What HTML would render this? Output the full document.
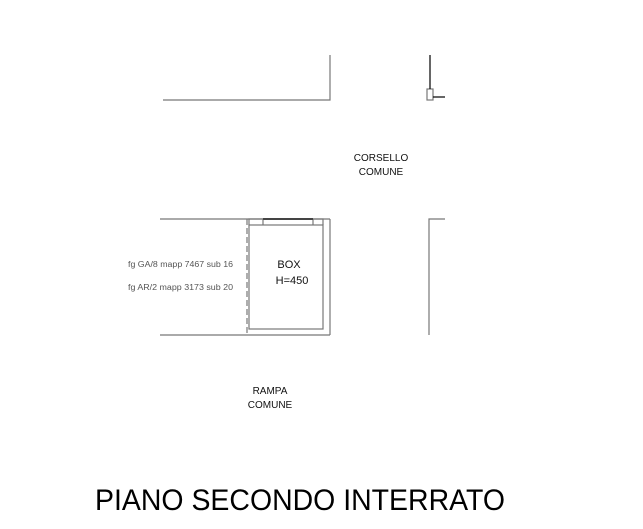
<!DOCTYPE html>
<html><head><meta charset="utf-8"><style>body{margin:0;background:#fff}</style></head>
<body>
<svg width="643" height="524" xmlns="http://www.w3.org/2000/svg" font-family="Liberation Sans, sans-serif">
<g stroke="#777" stroke-width="1.2" fill="none">
<polyline points="163,100 330,100 330,55"/>
<line x1="160" y1="219" x2="330" y2="219"/>
<line x1="160" y1="335" x2="330" y2="335"/>
<line x1="330" y1="219" x2="330" y2="335"/>
<line x1="247" y1="219" x2="247" y2="335" stroke-dasharray="6,3"/>
<rect x="249" y="225" width="74" height="104"/>
<polyline points="249,225 249,219 263,219 263,225"/>
<polyline points="313,225 313,219 323,219 323,225"/>
<polyline points="445,219 429,219 429,335"/>
<rect x="427" y="89" width="6" height="11"/>
</g>
<line x1="263" y1="219" x2="313" y2="219" stroke="#444" stroke-width="2"/>
<line x1="430" y1="55" x2="430" y2="89" stroke="#000" stroke-width="1.2"/>
<line x1="433" y1="97" x2="445" y2="97" stroke="#000" stroke-width="1.2"/>
<g fill="#111" font-size="10" text-anchor="middle">
<text x="381" y="161">CORSELLO</text>
<text x="381" y="175">COMUNE</text>
<text x="270" y="394">RAMPA</text>
<text x="270" y="408">COMUNE</text>
</g>
<g fill="#111" font-size="11" text-anchor="middle">
<text x="289" y="268">BOX</text>
<text x="292" y="284">H=450</text>
</g>
<g fill="#555" font-size="8">
<text x="128" y="267" textLength="105" lengthAdjust="spacingAndGlyphs">fg GA/8 mapp 7467 sub 16</text>
<text x="128" y="290" textLength="105" lengthAdjust="spacingAndGlyphs">fg AR/2 mapp 3173 sub 20</text>
</g>
<text x="95" y="510" font-size="30" fill="#000" textLength="410" lengthAdjust="spacingAndGlyphs">PIANO SECONDO INTERRATO</text>
</svg>
</body></html>
